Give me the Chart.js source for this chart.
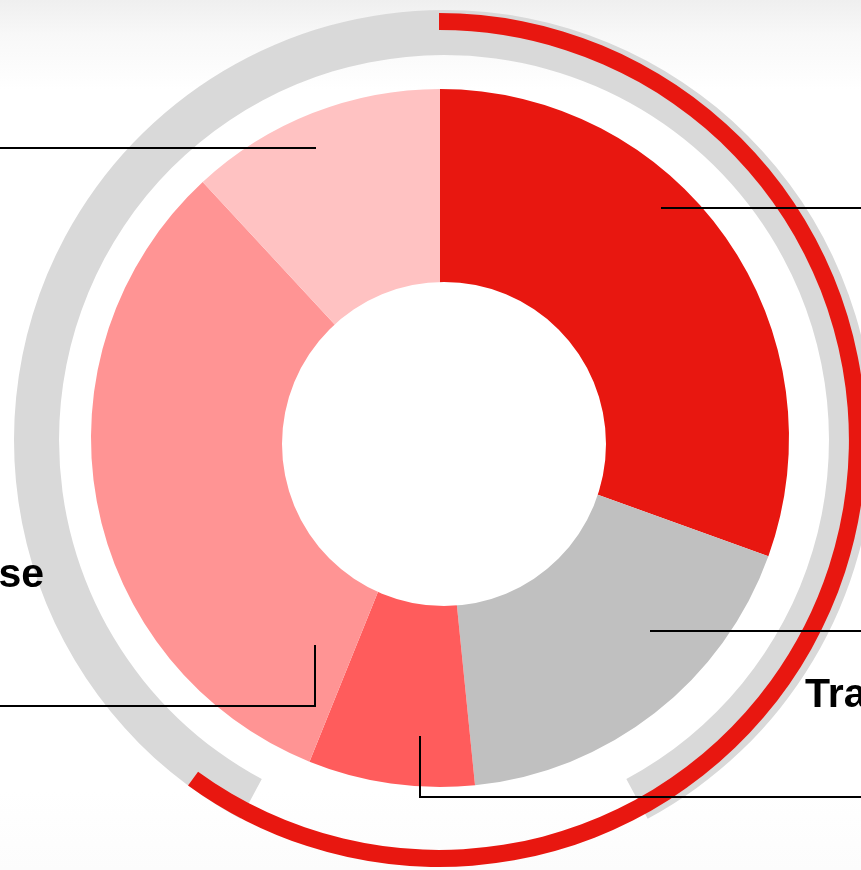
<!DOCTYPE html>
<html>
<head>
<meta charset="utf-8">
<script src="https://cdn.jsdelivr.net/npm/chart.js@4/dist/chart.umd.min.js"></script>
<style>
  html, body { margin: 0; padding: 0; }
  body {
    width: 861px; height: 870px; overflow: hidden;
    background: linear-gradient(#efefef 0px, #f8f8f8 35px, #ffffff 90px, #ffffff 790px, #fcfcfc 870px);
  }
  .layer { position: absolute; left: 0; top: 0; }
</style>
</head>
<body>
<canvas id="trackChart" class="layer" width="861" height="870"></canvas>
<canvas id="ringChart" class="layer" width="861" height="870"></canvas>
<canvas id="mainChart" class="layer" width="861" height="870"></canvas>
<canvas id="holeChart" class="layer" width="861" height="870"></canvas>
<script>
const categories = ['A', 'B', 'C', 'D', 'E'];
const shares = [30.5, 17.9, 7.7, 32.0, 11.9];
const shareColors = ['#e81710', '#c0c0c0', '#ff5c5c', '#ff9494', '#ffc2c2'];
const progress = [60, 40];      // red arc round the outside
const track = [84.3, 15.7];     // grey track, open at the bottom
const sideLabels = ['se', 'Tra'];

const RED = '#e81710';
const CLEAR = 'rgba(0,0,0,0)';

// leader lines: from a point inside each slice out to the page edge
const leaders = {
  id: 'leaders',
  afterDatasetsDraw(chart) {
    const ctx = chart.ctx;
    const arcs = chart.getDatasetMeta(0).data;
    const W = chart.width;
    // [fraction along the slice, distance from centre]
    const at = [[0.40, 320], [0.35, 286], [0.346, 300], [0.078, 243], [0.456, 316]];
    const pts = arcs.map((a, i) => {
      const ang = a.startAngle + at[i][0] * (a.endAngle - a.startAngle);
      return [Math.round(a.x + at[i][1] * Math.cos(ang)), Math.round(a.y + at[i][1] * Math.sin(ang))];
    });
    const cy = arcs[0].y;
    ctx.save();
    ctx.strokeStyle = '#000';
    ctx.lineWidth = 2;
    ctx.lineCap = 'square';
    const path = (list) => {
      ctx.beginPath();
      ctx.moveTo(list[0][0], list[0][1]);
      list.slice(1).forEach(p => ctx.lineTo(p[0], p[1]));
      ctx.stroke();
    };
    path([pts[0], [W + 2, pts[0][1]]]);
    path([pts[1], [W + 2, pts[1][1]]]);
    path([pts[2], [pts[2][0], cy + 359], [W + 2, cy + 359]]);
    path([pts[3], [pts[3][0], cy + 268], [-2, cy + 268]]);
    path([pts[4], [-2, pts[4][1]]]);

    ctx.fillStyle = '#000';
    ctx.font = 'bold 41px "Liberation Sans", Arial, sans-serif';
    ctx.textBaseline = 'alphabetic';
    ctx.textAlign = 'right';
    ctx.fillText(sideLabels[0], arcs[0].x - 396, cy + 149);
    ctx.textAlign = 'left';
    ctx.fillText(sideLabels[1], arcs[0].x + 365, cy + 269);
    ctx.restore();
  }
};

const quiet = {
  legend: { display: false },
  tooltip: { enabled: false }
};

function flat(extra) {
  return Object.assign({
    responsive: false,
    animation: false,
    events: [],
    plugins: quiet
  }, extra);
}

// grey track behind everything
new Chart(document.getElementById('trackChart'), {
  type: 'doughnut',
  data: {
    labels: ['track', ''],
    datasets: [{ data: track, backgroundColor: ['#d9d9d9', CLEAR], borderWidth: 0 }]
  },
  options: flat({
    radius: 430,
    cutout: '89.53%',
    rotation: 208.25,
    layout: { padding: { left: 27, top: 10 } }
  })
});

// red progress arc
new Chart(document.getElementById('ringChart'), {
  type: 'doughnut',
  data: {
    labels: ['done', ''],
    datasets: [{ data: progress, backgroundColor: [RED, CLEAR], borderWidth: 0 }]
  },
  options: flat({
    radius: 427,
    cutout: '96%',
    layout: { padding: { left: 17, top: 10 } }
  })
});

// share doughnut with leader lines
new Chart(document.getElementById('mainChart'), {
  type: 'doughnut',
  data: {
    labels: categories,
    datasets: [{ data: shares, backgroundColor: shareColors, borderWidth: 0 }]
  },
  options: flat({
    radius: 349,
    cutout: '43%',
    layout: { padding: { left: 19, top: 6 } }
  }),
  plugins: [leaders]
});

// white centre
new Chart(document.getElementById('holeChart'), {
  type: 'pie',
  data: {
    labels: [''],
    datasets: [{ data: [1], backgroundColor: ['#ffffff'], borderWidth: 0 }]
  },
  options: flat({
    radius: 162,
    layout: { padding: { left: 27, top: 18 } }
  })
});
</script>
</body>
</html>
